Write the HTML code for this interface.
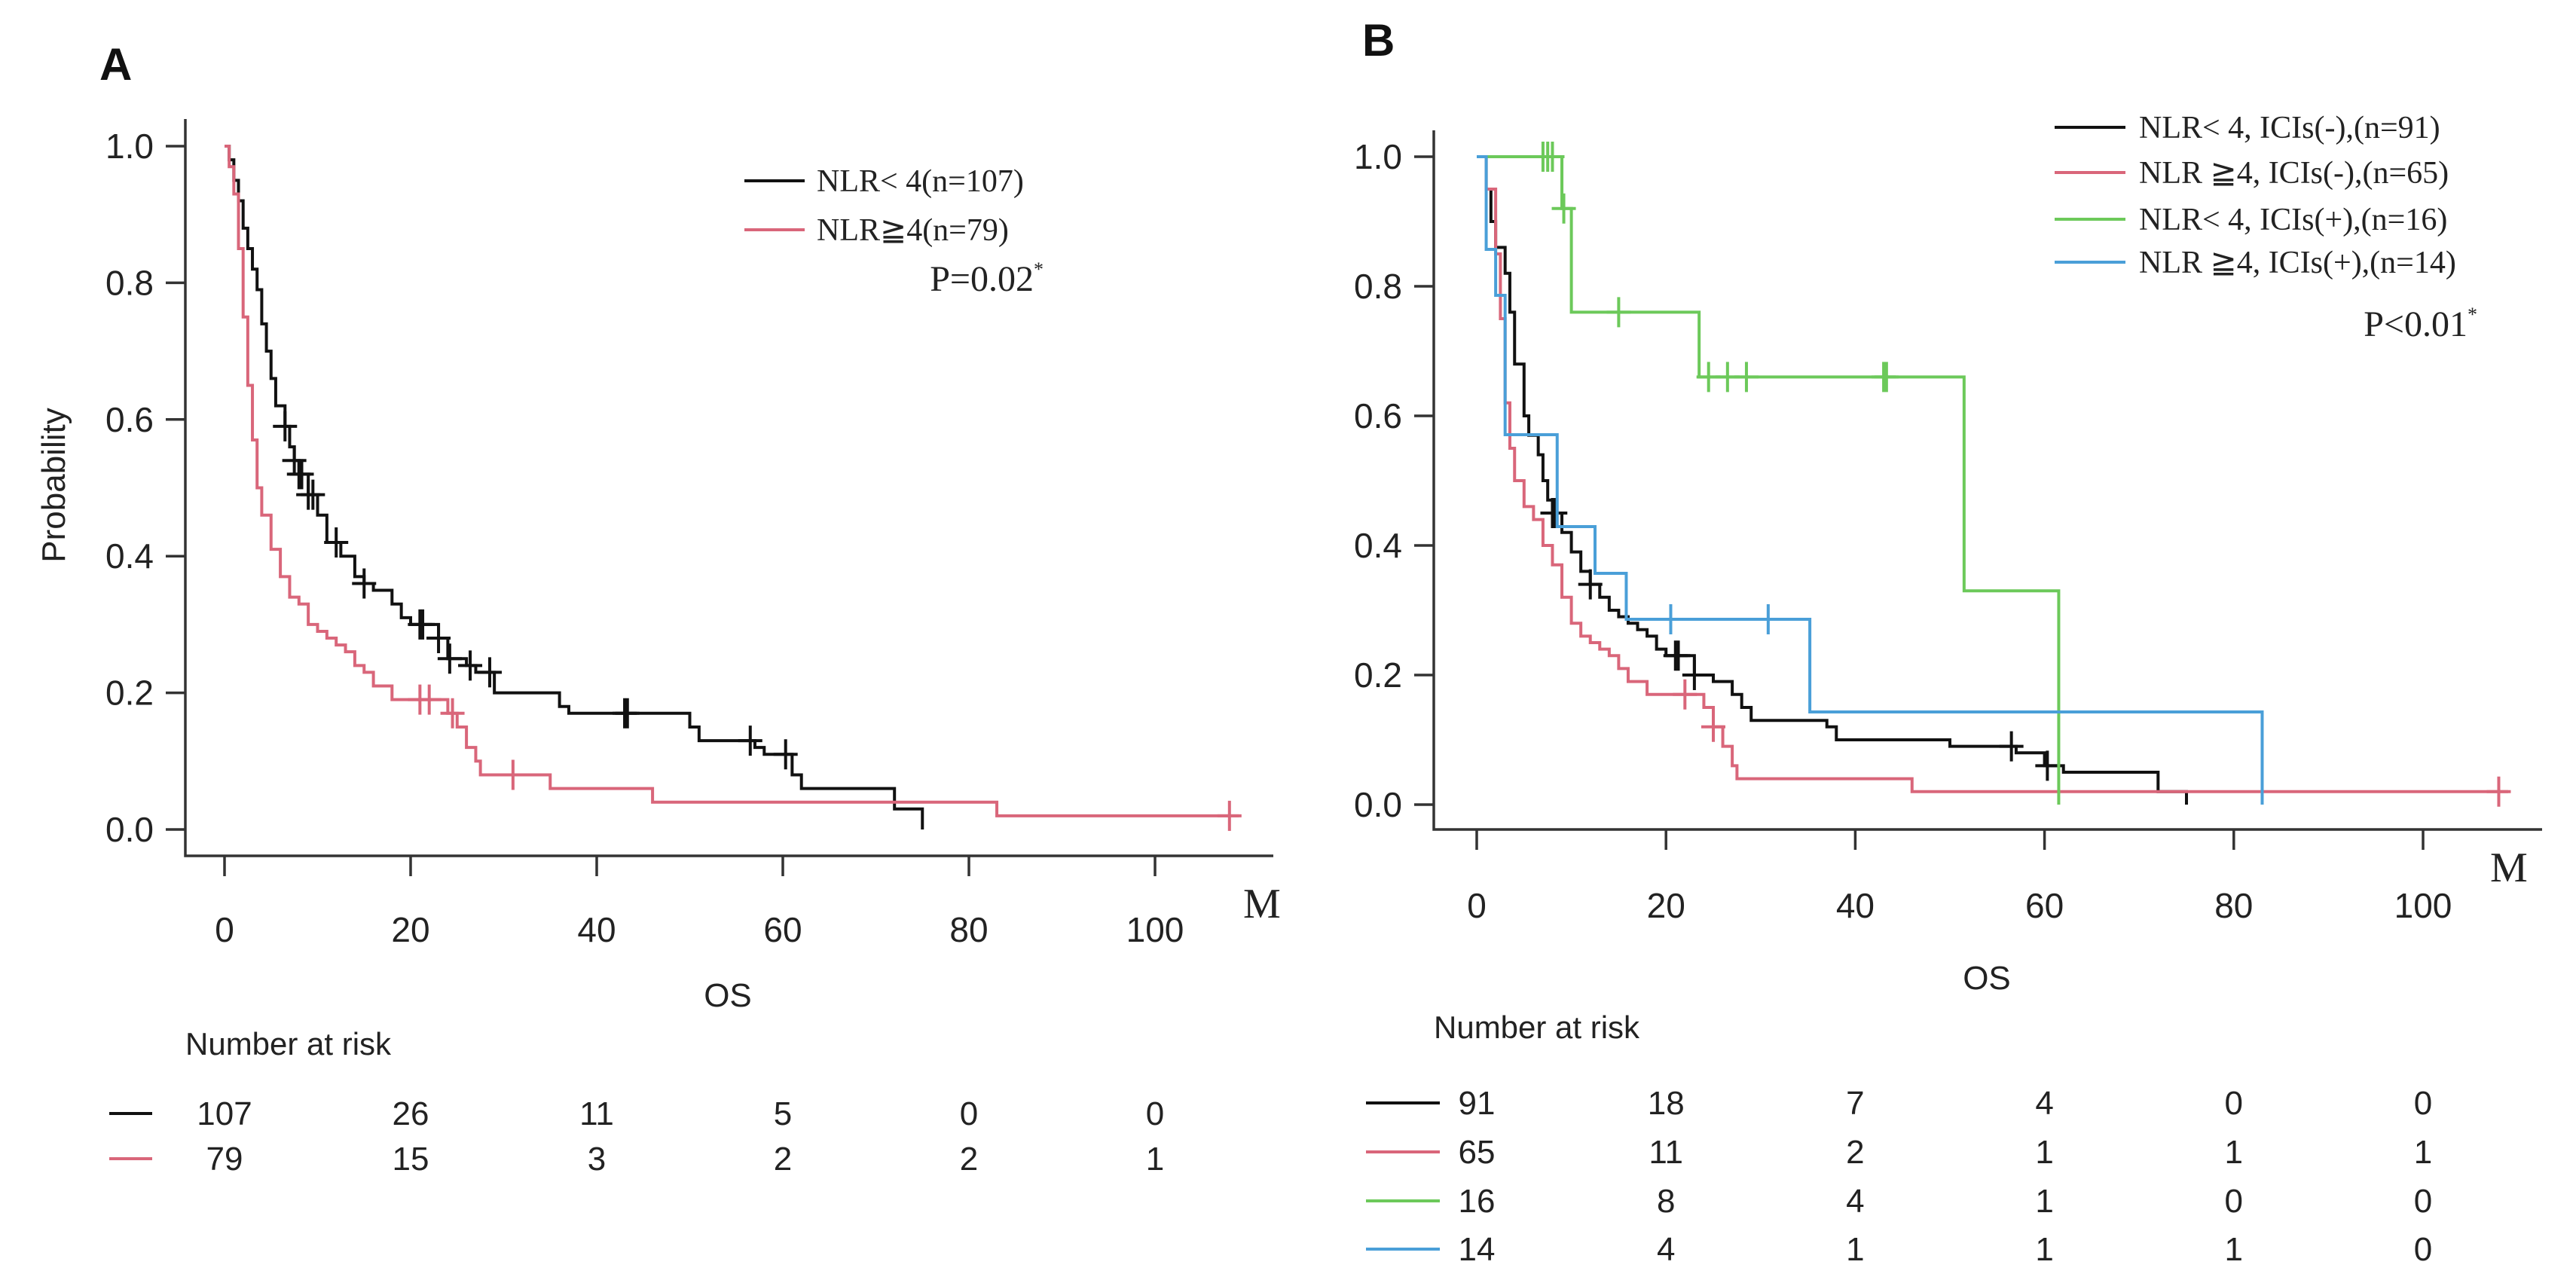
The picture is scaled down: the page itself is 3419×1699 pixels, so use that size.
<!DOCTYPE html>
<html><head><meta charset="utf-8"><style>
html,body{margin:0;padding:0;background:#fff;}
svg{display:block;}
.s{font-family:"Liberation Sans",sans-serif;}
.r{font-family:"Liberation Serif",serif;}
</style></head><body>
<svg id="c" width="3419" height="1699" viewBox="0 0 3419 1699" xmlns="http://www.w3.org/2000/svg"></svg>
<script>
// ---- Panel A data ----
const aBlackT=[0,0.5,1,1.5,2,2.5,3,3.5,4,4.5,5,5.5,6.5,7,7.5,8,9,10,11,12.5,14,15,16,18,19,20,23,24,26,27,29,36,37,50,51,57,58,61,62,72,75];
const aBlackS=[1,0.98,0.95,0.92,0.88,0.85,0.82,0.79,0.74,0.70,0.66,0.62,0.59,0.56,0.54,0.52,0.49,0.46,0.42,0.40,0.37,0.36,0.35,0.33,0.31,0.30,0.28,0.25,0.24,0.23,0.20,0.18,0.17,0.15,0.13,0.12,0.11,0.08,0.06,0.03,0.0];
const aBlackCens=[6.5,7.5,8,8.3,9,9.5,12,15,21,21.3,23,24.2,26.4,28.5,43,43.3,56.5,60.3];
const aRedT=[0,0.5,1,1.5,2,2.5,3,3.5,4,5,6,7,8,9,10,11,12,13,14,15,16,18,24,25,26,27,27.5,35,46,83];
const aRedS=[1,0.97,0.93,0.85,0.75,0.65,0.57,0.50,0.46,0.41,0.37,0.34,0.33,0.30,0.29,0.28,0.27,0.26,0.24,0.23,0.21,0.19,0.17,0.15,0.12,0.10,0.08,0.06,0.04,0.02];
const aRedCens=[21,22,24.5,31,108];
const aRedEnd=109, aBlackEnd=75;
// ---- Panel B data ----
const bBlackT=[0,1,1.5,2,3,3.5,4,5,5.5,6.5,7,7.5,8,9,10,11,12,13,14,15,16,17,18,19,20,23,25,27,28,29,37,38,50,57,60,62,72,75];
const bBlackS=[1,0.95,0.90,0.86,0.82,0.76,0.68,0.60,0.57,0.54,0.50,0.47,0.45,0.42,0.39,0.36,0.34,0.32,0.30,0.29,0.28,0.27,0.26,0.24,0.23,0.20,0.19,0.17,0.15,0.13,0.12,0.10,0.09,0.08,0.06,0.05,0.02,0.0];
const bBlackCens=[8,8.3,12,21,21.3,23,56.5,60.3];
const bRedT=[0,1,2,2.5,3,3.5,4,5,6,7,8,9,10,11,12,13,14,15,16,18,24,25,26,27,27.5,46];
const bRedS=[1,0.95,0.85,0.75,0.62,0.55,0.50,0.46,0.44,0.40,0.37,0.32,0.28,0.26,0.25,0.24,0.23,0.21,0.19,0.17,0.15,0.12,0.09,0.06,0.04,0.02];
const bRedCens=[22,25,108];
const bGreenT=[0,9,10,23.5,51.5,61.5];
const bGreenS=[1,0.92,0.76,0.66,0.33,0.0];
const bGreenCens=[7,7.5,8,9.2,15,24.5,26.5,28.5,43,43.3];
const bBlueT=[0,1,2,3,8.5,12.5,15.8,35.2,83];
const bBlueS=[1,0.857,0.786,0.571,0.429,0.357,0.286,0.143,0.0];
const bBlueCens=[20.5,30.8];
const bRedEnd=109, bBlackEnd=75, bGreenEnd=61.5, bBlueEnd=83;
const xTicks=[0,20,40,60,80,100];
const yTicks=[0,0.2,0.4,0.6,0.8,1.0];
const riskA=[[107,26,11,5,0,0],[79,15,3,2,2,1]];
const riskB=[[91,18,7,4,0,0],[65,11,2,1,1,1],[16,8,4,1,0,0],[14,4,1,1,1,0]];

const NS='http://www.w3.org/2000/svg';
const svg=document.getElementById('c');
function mk(tag,attrs,parent,text){const e=document.createElementNS(NS,tag);for(const k in attrs)e.setAttribute(k,attrs[k]);if(text!==undefined)e.textContent=text;(parent||svg).appendChild(e);return e;}
const BLACK='#111', RED='#d9667a', GREEN='#6cc95a', BLUE='#4a9fd8';
const SW=4;

function panel(cfg){
  const g=mk('g',{});
  
  
  const X=t=>cfg.x0+t*cfg.xs, Y=s=>cfg.y0-s*cfg.ys;
  const ax=mk('path',{d:`M${cfg.axX} ${cfg.axTop} V${cfg.axY} H${cfg.axRight}`,stroke:'#333','stroke-width':3.5,fill:'none'},g);
  
  yTicks.forEach(v=>{
    const l=mk('line',{x1:cfg.axX-26,x2:cfg.axX,y1:Y(v),y2:Y(v),stroke:'#333','stroke-width':3.5},g);
    
    const t=mk('text',{x:cfg.axX-42,y:Y(v)+16,'text-anchor':'end','font-size':46,class:'s',fill:'#222'},g,v.toFixed(1));
    
  });
  xTicks.forEach(v=>{
    const l=mk('line',{x1:X(v),x2:X(v),y1:cfg.axY,y2:cfg.axY+27,stroke:'#333','stroke-width':3.5},g);
    
    const t=mk('text',{x:X(v),y:cfg.xLabY,'text-anchor':'middle','font-size':46,class:'s',fill:'#222'},g,String(v));
    
  });
  cfg.series.forEach(sr=>{
    let d=`M${X(sr.t[0])} ${Y(sr.s[0])}`;
    for(let i=1;i<sr.t.length;i++){d+=` H${X(sr.t[i])} V${Y(sr.s[i])}`;}
    d+=` H${X(sr.end)}`;
    const p=mk('path',{d,stroke:sr.c,'stroke-width':SW,fill:'none'},g);
    
    sr.cens.forEach(ct=>{
      let sv=sr.s[0];for(let i=0;i<sr.t.length;i++){if(sr.t[i]<=ct)sv=sr.s[i];}
      const cm=mk('path',{d:`M${X(ct)-16} ${Y(sv)} H${X(ct)+16} M${X(ct)} ${Y(sv)-20} V${Y(sv)+20}`,stroke:sr.c,'stroke-width':SW,fill:'none'},g);
      
    });
  });
  cfg.legend.forEach((lg,i)=>{
    const l=mk('line',{x1:cfg.lgX1,x2:cfg.lgX2,y1:lg.y,y2:lg.y,stroke:lg.c,'stroke-width':SW},g);
    
    const t=mk('text',{x:cfg.lgTX,y:lg.y+14,'font-size':42,class:'r',fill:'#222'},g,lg.txt);
    
  });
  const pv=mk('text',{x:cfg.pX,y:cfg.pY,'text-anchor':'end','font-size':48,class:'r',fill:'#222'},g);
  
  pv.textContent=cfg.p;
  mk('tspan',{'font-size':26,dy:-20},pv,'*');
  const m=mk('text',{x:cfg.mX,y:cfg.mY,'font-size':56,class:'r',fill:'#222'},g,'M');
  
  const os=mk('text',{x:cfg.osX,y:cfg.osY,'text-anchor':'middle','font-size':44,class:'s',fill:'#222'},g,'OS');
  
  const nr=mk('text',{x:cfg.nrX,y:cfg.nrY,'font-size':42,class:'s',fill:'#222'},g,'Number at risk');
  
  cfg.risk.forEach((row,i)=>{
    const y=cfg.rY[i];
    const l=mk('line',{x1:cfg.rL1,x2:cfg.rL2,y1:y-15,y2:y-15,stroke:cfg.rC[i],'stroke-width':SW},g);
    
    row.forEach((v,j)=>{
      const t=mk('text',{x:X(xTicks[j]),y:y,'text-anchor':'middle','font-size':44,class:'s',fill:'#222'},g,String(v));
      
    });
  });
  const pl=mk('text',{x:cfg.plX,y:cfg.plY,'font-size':60,'font-weight':'bold',class:'s',fill:'#111'},g,cfg.label);
  
}

panel({name:'panel-a',label:'A',plX:132,plY:106,
  x0:298,xs:247/20,y0:1101,ys:907,
  axX:246,axTop:158,axY:1136,axRight:1690,xLabY:1250,
  series:[{n:'nlr-low',t:aBlackT,s:aBlackS,cens:aBlackCens,end:aBlackEnd,c:BLACK},
          {n:'nlr-high',t:aRedT,s:aRedS,cens:aRedCens,end:aRedEnd,c:RED}],
  legend:[{y:240,c:BLACK,txt:'NLR< 4(n=107)'},{y:305,c:RED,txt:'NLR≧4(n=79)'}],
  lgX1:988,lgX2:1068,lgTX:1084,p:'P=0.02',pX:1385,pY:386,
  mX:1650,mY:1218,osX:966,osY:1336,nrX:246,nrY:1400,
  risk:riskA,rY:[1493,1553],rL1:145,rL2:202,rC:[BLACK,RED]});
const yl=mk('text',{x:0,y:0,'font-size':44,class:'s',fill:'#222','text-anchor':'middle',transform:'translate(86,644) rotate(-90)'},svg,'Probability');


panel({name:'panel-b',label:'B',plX:1808,plY:74,
  x0:1960,xs:251.2/20,y0:1068,ys:860,
  axX:1903,axTop:173,axY:1101,axRight:3374,xLabY:1218,
  series:[{n:'nlr-low-ici-neg',t:bBlackT,s:bBlackS,cens:bBlackCens,end:bBlackEnd,c:BLACK},
          {n:'nlr-high-ici-neg',t:bRedT,s:bRedS,cens:bRedCens,end:bRedEnd,c:RED},
          {n:'nlr-low-ici-pos',t:bGreenT,s:bGreenS,cens:bGreenCens,end:bGreenEnd,c:GREEN},
          {n:'nlr-high-ici-pos',t:bBlueT,s:bBlueS,cens:bBlueCens,end:bBlueEnd,c:BLUE}],
  legend:[{y:169,c:BLACK,txt:'NLR< 4, ICIs(-),(n=91)'},{y:229,c:RED,txt:'NLR ≧4, ICIs(-),(n=65)'},
          {y:291,c:GREEN,txt:'NLR< 4, ICIs(+),(n=16)'},{y:348,c:BLUE,txt:'NLR ≧4, ICIs(+),(n=14)'}],
  lgX1:2727,lgX2:2821,lgTX:2839,p:'P<0.01',pX:3288,pY:446,
  mX:3305,mY:1170,osX:2637,osY:1313,nrX:1903,nrY:1378,
  risk:riskB,rY:[1479,1544,1609,1673],rL1:1813,rL2:1911,rC:[BLACK,RED,GREEN,BLUE]});
</script>
</body></html>
